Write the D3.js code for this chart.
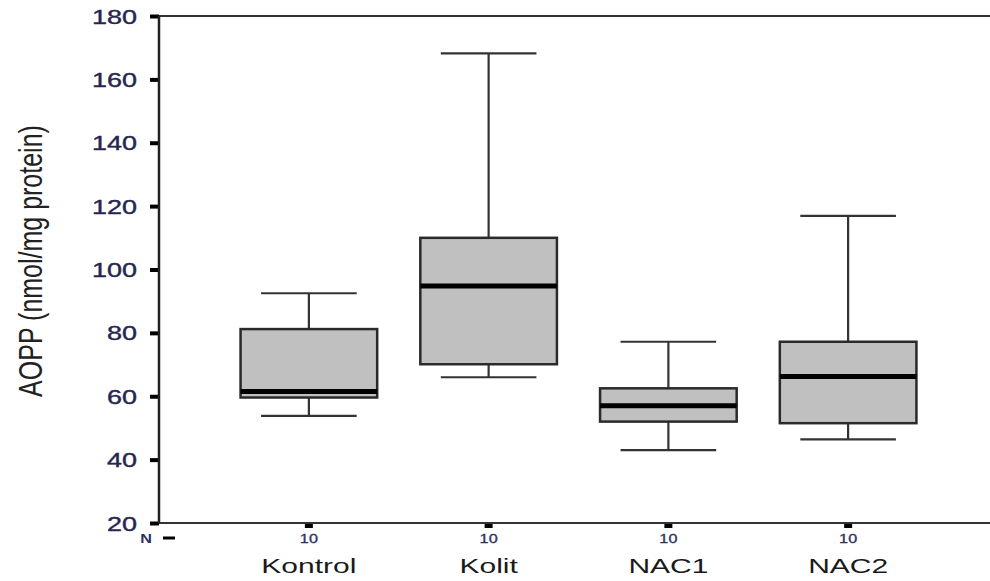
<!DOCTYPE html>
<html>
<head>
<meta charset="utf-8">
<script src="https://cdn.jsdelivr.net/npm/d3@7"></script>
<style>
  body { margin: 0; background: #fff; }
  svg { display: block; font-family: Arial, "Liberation Sans", sans-serif; }
</style>
</head>
<body>
<svg id="chart"></svg>
<script>
// values
var groups = ["Kontrol", "Kolit", "NAC1", "NAC2"]
var counts = [10, 10, 10, 10]
var whiskerLow = [53.8, 66.0, 43.0, 46.4]
var q1 = [59.6, 70.1, 52.0, 51.5]
var medians = [61.5, 94.8, 57.0, 66.2]
var q3 = [81.2, 110.0, 62.5, 77.2]
var whiskerHigh = [92.5, 168.2, 77.2, 116.9]
var yTicks = [20, 40, 60, 80, 100, 120, 140, 160, 180]

var screen = {width: 990, height: 581}
var margins = {left: 159, right: 0, top: 16, bottom: 58}
var graph = {
    width: screen.width - margins.left - margins.right,
    height: screen.height - margins.top - margins.bottom
}
var stretch = 1.35   // the source picture is drawn wide

var svg = d3.select("#chart")
    .attr("width", screen.width)
    .attr("height", screen.height)

var yScale = d3.scaleLinear()
    .domain([20, 180])
    .range([graph.height, 0])

var xScale = d3.scaleBand()
    .domain(groups)
    .range([60, 60 + 4 * 179.75])

var boxes = groups.map(function(g, i) {
    return {name: g, n: counts[i], lo: whiskerLow[i], q1: q1[i],
            med: medians[i], q3: q3[i], hi: whiskerHigh[i]}
})

var plot = svg.append("g")
    .attr("transform", "translate(" + margins.left + "," + margins.top + ")")

// frame lines: top and bottom
plot.append("line")
    .attr("x1", 0).attr("x2", graph.width)
    .attr("y1", 0).attr("y2", 0)
    .attr("stroke", "#333").attr("stroke-width", 2)
plot.append("line")
    .attr("x1", 0).attr("x2", graph.width)
    .attr("y1", graph.height).attr("y2", graph.height)
    .attr("stroke", "#333").attr("stroke-width", 2)

var boxW = xScale.bandwidth() * 0.76
var capW = boxW * 0.7

var box = plot.selectAll("g.box")
    .data(boxes)
    .enter()
    .append("g")
    .classed("box", true)
    .attr("transform", function(d) {
        return "translate(" + (xScale(d.name) + xScale.bandwidth() / 2) + ",0)"
    })

// whisker stems
box.append("line")
    .attr("x1", 0).attr("x2", 0)
    .attr("y1", function(d) { return yScale(d.hi) })
    .attr("y2", function(d) { return yScale(d.q3) })
    .attr("stroke", "#333").attr("stroke-width", 2.2)
box.append("line")
    .attr("x1", 0).attr("x2", 0)
    .attr("y1", function(d) { return yScale(d.q1) })
    .attr("y2", function(d) { return yScale(d.lo) })
    .attr("stroke", "#333").attr("stroke-width", 2.2)

// caps
box.append("line")
    .attr("x1", -capW / 2).attr("x2", capW / 2)
    .attr("y1", function(d) { return yScale(d.hi) })
    .attr("y2", function(d) { return yScale(d.hi) })
    .attr("stroke", "#333").attr("stroke-width", 2.2)
box.append("line")
    .attr("x1", -capW / 2).attr("x2", capW / 2)
    .attr("y1", function(d) { return yScale(d.lo) })
    .attr("y2", function(d) { return yScale(d.lo) })
    .attr("stroke", "#333").attr("stroke-width", 2.2)

// the box
box.append("rect")
    .attr("x", -boxW / 2)
    .attr("width", boxW)
    .attr("y", function(d) { return yScale(d.q3) })
    .attr("height", function(d) { return yScale(d.q1) - yScale(d.q3) })
    .attr("fill", "#c0c0c0")
    .attr("stroke", "#2a2a2a")
    .attr("stroke-width", 2.5)

// median
box.append("line")
    .attr("x1", -boxW / 2).attr("x2", boxW / 2)
    .attr("y1", function(d) { return yScale(d.med) })
    .attr("y2", function(d) { return yScale(d.med) })
    .attr("stroke", "#000").attr("stroke-width", 5)

// y axis
var yAxis = d3.axisLeft(yScale)
    .tickValues(yTicks)
    .tickSize(9)
    .tickPadding(0)

var yG = plot.append("g").call(yAxis)
yG.select(".domain").remove()
yG.append("line")
    .attr("x1", 0).attr("x2", 0)
    .attr("y1", 0).attr("y2", graph.height)
    .attr("stroke", "#222").attr("stroke-width", 2.5)
yG.selectAll(".tick line")
    .style("stroke", "#000").style("stroke-width", "4px")
yG.selectAll(".tick text")
    .attr("x", -22 / stretch)
    .attr("dy", "0.35em")
    .attr("transform", "scale(" + stretch + ",1)")
    .attr("font-size", 20)
    .attr("fill", "#262650")
    .attr("stroke", "#262650")
    .attr("stroke-width", 0.4)
    .attr("font-family", "Arial, 'Liberation Sans', sans-serif")

// x ticks with N counts
var xAxis = d3.axisBottom(xScale)
    .tickSize(4)
    .tickPadding(0)
var xG = plot.append("g")
    .attr("transform", "translate(0," + graph.height + ")")
    .call(xAxis)
xG.select(".domain").remove()
xG.selectAll(".tick line")
    .style("stroke", "#000").style("stroke-width", "8px")
    .attr("y1", 1).attr("y2", 5)
xG.selectAll(".tick text").remove()

xG.selectAll(".tick").append("text")
    .text(function(d, i) { return counts[i] })
    .attr("y", 20)
    .attr("text-anchor", "middle")
    .attr("font-size", 12)
    .attr("fill", "#303060")
    .attr("stroke", "#303060")
    .attr("stroke-width", 0.3)
    .attr("transform", "scale(" + stretch + ",1)")

xG.selectAll(".tick").append("text")
    .text(function(d) { return d })
    .attr("y", 50)
    .attr("text-anchor", "middle")
    .attr("font-size", 20)
    .attr("fill", "#1a1a1a")
    .attr("transform", "scale(1.5,1)")

// "N -" marker
xG.append("text")
    .text("N")
    .attr("x", -7 / stretch)
    .attr("y", 20)
    .attr("text-anchor", "end")
    .attr("font-size", 12)
    .attr("font-weight", "bold")
    .attr("fill", "#303060")
    .attr("transform", "scale(" + stretch + ",1)")
xG.append("line")
    .attr("x1", 4).attr("x2", 16)
    .attr("y1", 15).attr("y2", 15)
    .style("stroke", "#000").style("stroke-width", "3px")

// y label
svg.append("text")
    .text("AOPP (nmol/mg protein)")
    .attr("text-anchor", "middle")
    .attr("dy", "0.35em")
    .attr("font-size", 25)
    .attr("fill", "#222")
    .attr("transform", "translate(31,261) scale(1.3,1) rotate(-90)")
</script>
</body>
</html>
